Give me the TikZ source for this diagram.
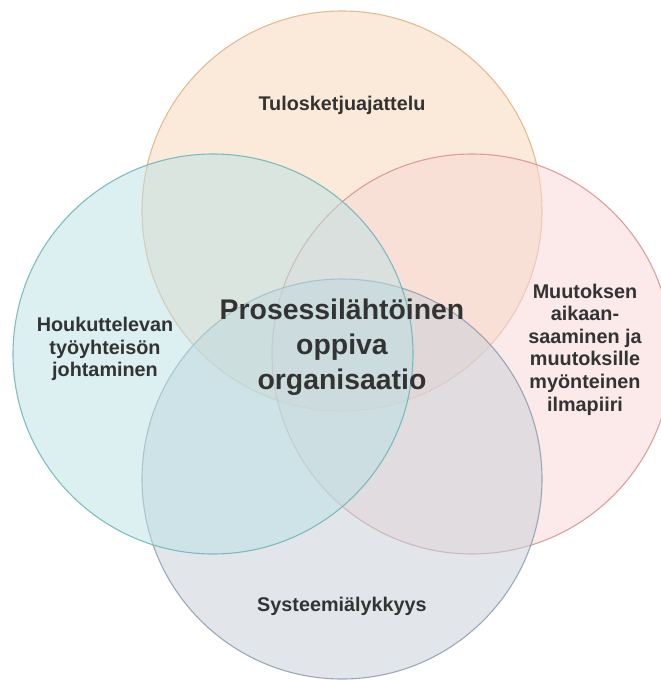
\documentclass[tikz,border=0pt]{standalone}
\usepackage{fontspec}
\setmainfont{Liberation Sans}
\begin{document}
\begin{tikzpicture}[x=1pt,y=-1pt,
  ring/.style={circle, inner sep=0pt, minimum size=400pt, line width=1.1pt,
               fill opacity=0.5, draw opacity=0.85},
  label/.style={align=center, text=black!80, font=\bfseries\fontsize{19.8}{22.6}\selectfont},
  hub/.style={align=center, text=black!80, font=\bfseries\fontsize{28.4}{35}\selectfont}]
\definecolor{topfill}{RGB}{249,215,183}
\definecolor{topline}{RGB}{226,178,126}
\definecolor{leftfill}{RGB}{187,225,229}
\definecolor{leftline}{RGB}{108,180,184}
\definecolor{rightfill}{RGB}{249,215,213}
\definecolor{rightline}{RGB}{212,146,142}
\definecolor{botfill}{RGB}{199,207,217}
\definecolor{botline}{RGB}{138,157,176}
\useasboundingbox (0,0) rectangle (661,680);
\fill[white] (0,0) rectangle (661,680);
% the four overlapping circles, stacked top, right, bottom, left
\node[ring, fill=topfill, draw=topline] (ctop) at (342,211) {};
\node[ring, fill=rightfill, draw=rightline] (cright) at (472,354) {};
\node[ring, fill=botfill, draw=botline] (cbot) at (342,479) {};
\node[ring, fill=leftfill, draw=leftline] (cleft) at (213,354) {};
% labels
\node[label] (ltop) at (342,105) {Tulosketjuajattelu};
\node[label] (lleft) at (105,349) {Houkuttelevan\\työyhteisön\\johtaminen};
\node[label] (lright) at (585,349.5) {Muutoksen\\aikaan-\\saaminen ja\\muutoksille\\myönteinen\\ilmapiiri};
\node[label] (lbot) at (342,606) {Systeemiälykkyys};
\node[hub] (lhub) at (342,347) {Prosessilähtöinen\\oppiva\\organisaatio};
\end{tikzpicture}
\end{document}
